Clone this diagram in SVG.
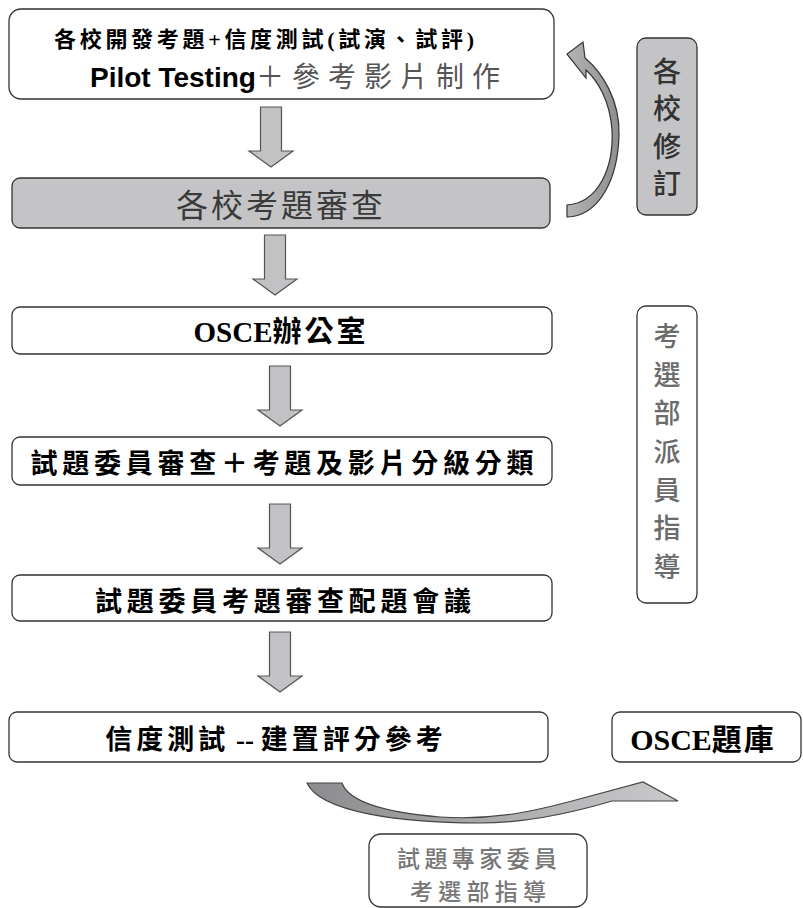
<svg xmlns="http://www.w3.org/2000/svg" width="803" height="908" viewBox="0 0 803 908">
<defs>
<style>
.box{fill:#ffffff;stroke:#333333;stroke-width:1.3}
.gbox{fill:#c4c4c6;stroke:#333333;stroke-width:1.3}
.cjk{font-family:"Noto Sans CJK TC","Noto Sans CJK SC",sans-serif}
.ser{font-family:"Liberation Serif","Times New Roman",serif}
.b{font-weight:700}
.blk{fill:#000000}
.arr{fill:#c2c2c4;stroke:#555555;stroke-width:1.2}
</style>
<path id="down" d="M-10.5,0 H10.5 V44 H22 L0,60 L-22,44 H-10.5 Z"/>
<linearGradient id="gb" x1="0" y1="0" x2="1" y2="0">
<stop offset="0" stop-color="#8c8c8e"/>
<stop offset="1" stop-color="#cacacc"/>
</linearGradient>
<linearGradient id="gr" x1="0" y1="0" x2="1" y2="0">
<stop offset="0" stop-color="#b4b4b6"/>
<stop offset="1" stop-color="#8e8e90"/>
</linearGradient>
</defs>
<rect width="803" height="908" fill="#ffffff"/>

<g id="connectors">
<use href="#down" class="arr" transform="translate(271,107)"/>
<use href="#down" class="arr" transform="translate(275,235)"/>
<use href="#down" class="arr" transform="translate(280,366)"/>
<use href="#down" class="arr" transform="translate(280,504)"/>
<use href="#down" class="arr" transform="translate(280,632)"/>
<path id="revise-arrow" d="M567,205 C598,203 614,168 612,130 C610,100 597,80 586,70 L586,78 L567,54 L583,42 L585,58 C602,72 620,100 619,135 C618,178 600,216 567,217 Z" fill="url(#gr)" stroke="#333333" stroke-width="1.2"/>
<path id="bank-arrow" d="M307,783 L342,783 C348,800 380,812 440,817 C500,821 545,808 572,801 L643,782 L678,801 L612,801 C575,812 530,823 480,823 C400,823 320,812 307,783 Z" fill="url(#gb)" stroke="#444444" stroke-width="1.2"/>
</g>

<g id="n1">
<rect class="box" x="9" y="9" width="545" height="90" rx="12"/>
<text x="264" y="47" text-anchor="middle" font-size="22" class="cjk b blk" textLength="420" lengthAdjust="spacing">各校開發考題<tspan class="ser">+</tspan>信度測試<tspan class="ser">(</tspan>試演、試評<tspan class="ser">)</tspan></text>
<text x="90" y="87" font-size="28"><tspan font-family="Liberation Sans,Arial,sans-serif" font-weight="700" fill="#000000">Pilot Testing</tspan><tspan class="cjk" fill="#555555" letter-spacing="8">＋參考影片制作</tspan></text>
</g>

<g id="n2">
<rect class="gbox" x="12" y="178" width="538" height="50" rx="8"/>
<text x="281" y="217" text-anchor="middle" font-size="32" class="cjk" fill="#3a3a3a" letter-spacing="3">各校考題審查</text>
</g>

<g id="n3">
<rect class="box" x="12" y="307" width="540" height="47" rx="8"/>
<text x="281" y="342" text-anchor="middle" font-size="29" class="b blk"><tspan class="ser">OSCE</tspan><tspan class="cjk" letter-spacing="3">辦公室</tspan></text>
</g>

<g id="n4">
<rect class="box" x="12" y="437" width="540" height="48" rx="8"/>
<text x="282" y="473" text-anchor="middle" font-size="27" class="cjk b blk" textLength="503" lengthAdjust="spacing">試題委員審查＋考題及影片分級分類</text>
</g>

<g id="n5">
<rect class="box" x="12" y="575" width="540" height="46" rx="8"/>
<text x="283" y="611" text-anchor="middle" font-size="27" class="cjk b blk" textLength="376" lengthAdjust="spacing">試題委員考題審查配題會議</text>
</g>

<g id="n6">
<rect class="box" x="9" y="712" width="539" height="50" rx="8"/>
<text x="276" y="749" text-anchor="middle" font-size="27" class="b blk"><tspan class="cjk" letter-spacing="4">信度測試</tspan><tspan class="ser" xml:space="preserve"> -- </tspan><tspan class="cjk" letter-spacing="4">建置評分參考</tspan></text>
</g>

<g id="n7">
<rect class="box" x="612" y="712" width="189" height="50" rx="8"/>
<text x="703" y="750" text-anchor="middle" font-size="30" class="b blk"><tspan class="ser">OSCE</tspan><tspan class="cjk" letter-spacing="2">題庫</tspan></text>
</g>

<g id="n8">
<rect class="gbox" x="637" y="38" width="60" height="177" rx="9"/>
<g class="cjk" font-weight="500" font-size="28" fill="#333333" text-anchor="middle">
<text x="667" y="82">各</text>
<text x="667" y="119">校</text>
<text x="667" y="157">修</text>
<text x="667" y="194">訂</text>
</g>
</g>

<g id="n9">
<rect class="box" x="637" y="306" width="60" height="297" rx="9"/>
<g class="cjk" font-weight="500" font-size="27" fill="#6b6b6b" text-anchor="middle">
<text x="667" y="346">考</text>
<text x="667" y="385">選</text>
<text x="667" y="423">部</text>
<text x="667" y="462">派</text>
<text x="667" y="500">員</text>
<text x="667" y="538">指</text>
<text x="667" y="577">導</text>
</g>
</g>

<g id="n10">
<rect class="box" x="369" y="834" width="218" height="73" rx="12"/>
<g class="cjk" font-weight="500" font-size="23" fill="#777777" text-anchor="middle">
<text x="477" y="867" textLength="160" lengthAdjust="spacing">試題專家委員</text>
<text x="478" y="900" textLength="136" lengthAdjust="spacing">考選部指導</text>
</g>
</g>
</svg>
